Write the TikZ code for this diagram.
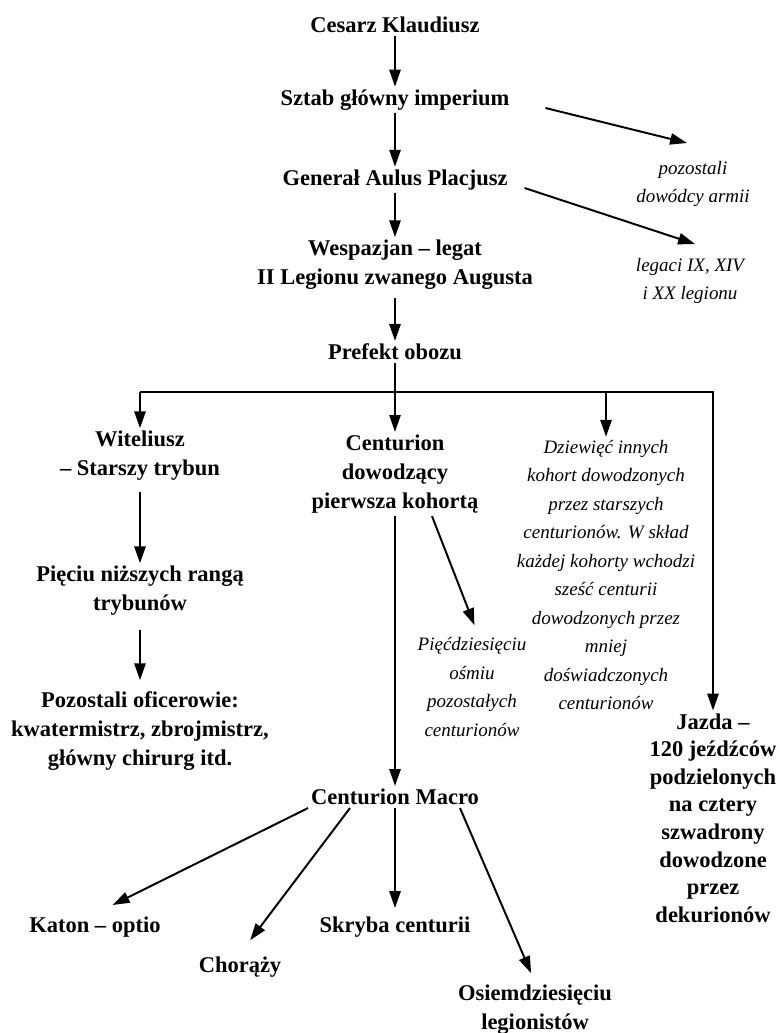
\documentclass[tikz,border=0pt]{standalone}
\usepackage{fontspec}
\setmainfont{Liberation Serif}
\usetikzlibrary{arrows.meta,calc}

\begin{document}
\begin{tikzpicture}[
    x=0.025cm, y=-0.025cm,
    rank/.style={font=\fontsize{16}{20.5}\selectfont\bfseries, align=center, inner sep=2pt},
    note/.style={font=\fontsize{13.5}{20.3}\selectfont\itshape, align=center, inner sep=2pt},
    arrow/.style={-{Triangle[length=12pt,width=8pt]}, line width=1.4pt},
    line/.style={line width=1.4pt}
]
\useasboundingbox (0,0) rectangle (780,1033);

% Chain of command
\node[rank] (cesarz) at (395,25) {Cesarz Klaudiusz};
\node[rank] (sztab) at (395,100) {Sztab główny imperium};
\node[rank] (general) at (395,180) {Generał Aulus Placjusz};
\node[rank] (wesp) at (395,265) {Wespazjan – legat\\II Legionu zwanego Augusta};
\node[rank] (pref) at (395,352) {Prefekt obozu};

% Side notes at the top
\node[note] (pozdow) at (693,184) {pozostali\\dowódcy armii};
\node[note] (legaci) at (690,281) {legaci IX, XIV\\i XX legionu};

% Branches under the prefect
\node[rank] (wit) at (140,456) {Witeliusz\\– Starszy trybun};
\node[rank] (tryb) at (140,591) {Pięciu niższych rangą\\trybunów};
\node[rank] (ofic) at (140,731) {Pozostali oficerowie:\\kwatermistrz, zbrojmistrz,\\główny chirurg itd.};
\node[rank] (cent) at (395,474) {Centurion\\dowodzący\\pierwsza kohortą};
\node[note] (piec) at (472,687) {Pięćdziesięciu\\ośmiu\\pozostałych\\centurionów};
\node[note] (dziew) at (606,575) {Dziewięć innych\\kohort dowodzonych\\przez starszych\\centurionów. W skład\\każdej kohorty wchodzi\\sześć centurii\\dowodzonych przez\\mniej\\doświadczonych\\centurionów};
\node[rank, font=\fontsize{16}{19.6}\selectfont\bfseries] (jazda) at (713,818) {Jazda –\\120 jeźdźców\\podzielonych\\na cztery\\szwadrony\\dowodzone\\przez\\dekurionów};

% The century
\node[rank] (macro) at (395,797) {Centurion Macro};
\node[rank] (katon) at (95,927) {Katon – optio};
\node[rank] (chor) at (240,967) {Chorąży};
\node[rank] (skryba) at (395,927) {Skryba centurii};
\node[rank] (osiem) at (535,1010) {Osiemdziesięciu\\legionistów};

% Arrows
\draw[arrow] (cesarz) -- (sztab);
\draw[arrow] (sztab) -- (general);
\draw[arrow] (general) -- (wesp);
\draw[arrow, shorten <=4pt] (wesp) -- (pref);
\draw[arrow] ($(sztab.east)+(33,8)$) -- ($(pozdow.north)+(-6,-15)$);
\draw[arrow] ($(general.east)+(14,8)$) -- ($(legaci.north)+(5,-11)$);

\coordinate (bus) at (395,392);
\draw[line] (pref) -- (bus);
\draw[line] (wit |- bus) -- (bus);
\draw[arrow] (bus) -| (jazda);
\draw[arrow] (wit |- bus) -- (wit);
\draw[arrow] (bus) -- (cent);
\draw[arrow] (dziew |- bus) -- (dziew);

\draw[arrow, shorten <=6pt] (wit) -- (tryb);
\draw[arrow, shorten <=8pt, shorten >=6pt] (tryb) -- (ofic);
\draw[arrow, shorten >=7pt] ($(cent.south)+(37,0)$) -- ($(piec.north)+(6,0)$);
\draw[arrow] (cent) -- (macro);

\draw[arrow, shorten >=14pt] (macro.south west) -- (katon.north);
\draw[arrow, shorten >=12pt] ($(macro.south)+(-45,0)$) -- (chor.north);
\draw[arrow, shorten >=4pt] (macro) -- (skryba);
\draw[arrow, shorten >=7pt] ($(macro.south)+(65,0)$) -- (osiem.north);

\end{tikzpicture}
\end{document}
